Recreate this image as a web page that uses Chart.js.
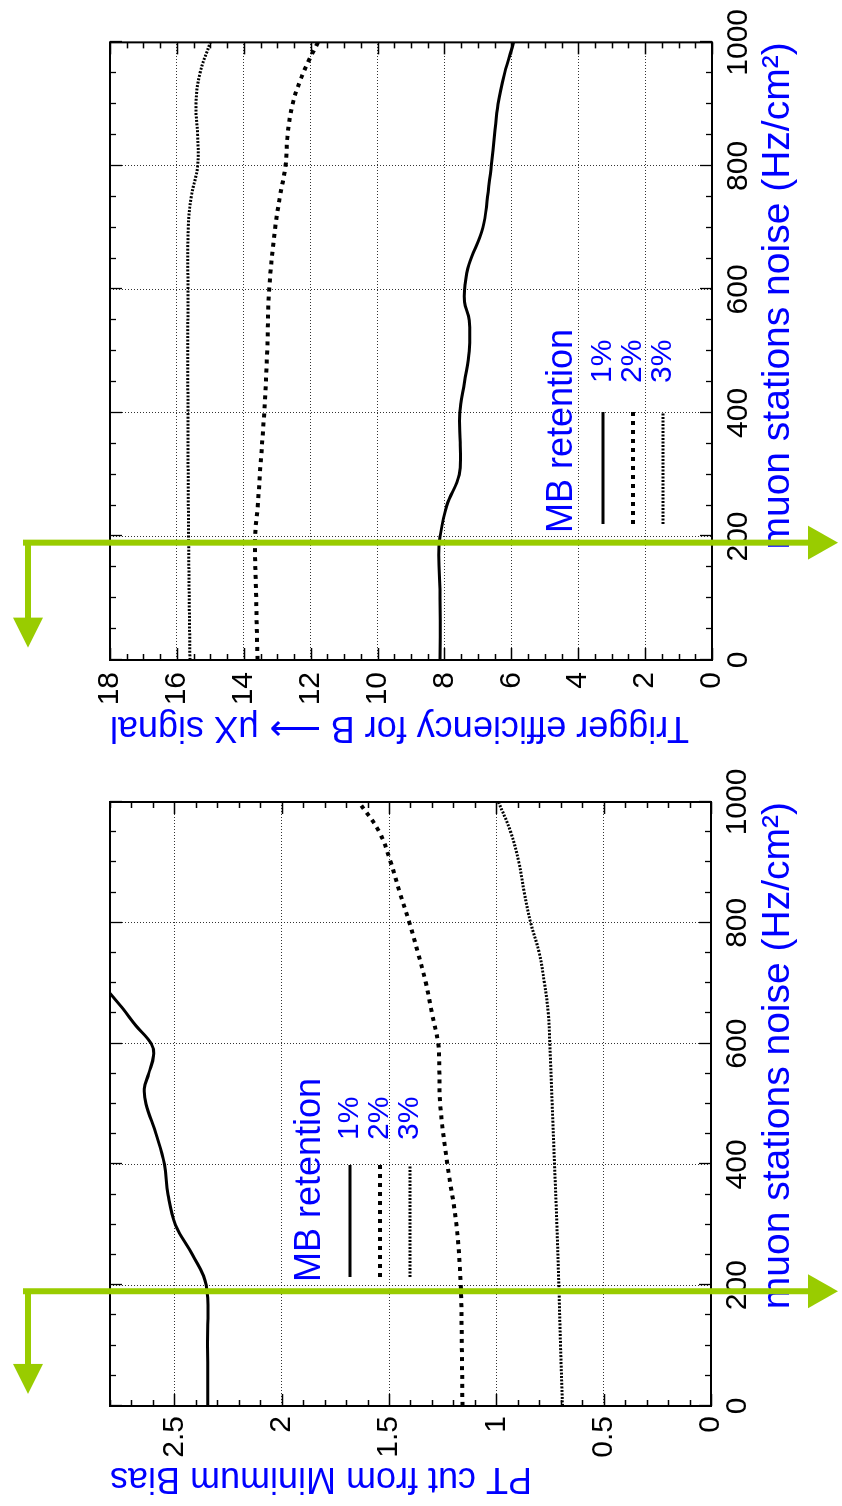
<!DOCTYPE html>
<html>
<head>
<meta charset="utf-8">
<script src="https://cdn.jsdelivr.net/npm/chart.js@4.4.1/dist/chart.umd.min.js"></script>
<style>
  html, body { margin: 0; padding: 0; background: #fff; overflow: hidden; }
  body { width: 842px; height: 1506px; position: relative; }
  /* the figure is laid out in landscape and turned a quarter turn */
  #sheet { position: absolute; left: 0; top: 0; width: 1506px; height: 842px;
           transform-origin: 0 0; transform: translate(0, 1506px) rotate(-90deg); }
  #sheet canvas { position: absolute; top: 0; }
  #ptChart { left: 0; }
  #effChart { left: 753px; }
</style>
</head>
<body>
<div id="sheet">
  <canvas id="ptChart" width="753" height="842"></canvas>
  <canvas id="effChart" width="753" height="842"></canvas>
</div>
<script>
// ---- PT cut from Minimum Bias vs muon stations noise ----
const ptNoise1 = [0, 100, 200, 250, 300, 350, 400, 450, 500, 525, 550, 580, 600, 630, 660, 700];
const ptCut1   = [2.345, 2.346, 2.352, 2.415, 2.495, 2.53, 2.546, 2.585, 2.632, 2.64, 2.62, 2.597, 2.608, 2.68, 2.745, 2.84];
const ptNoise2 = [0, 100, 200, 300, 400, 500, 560, 600, 650, 700, 750, 800, 850, 900, 950, 1000];
const ptCut2   = [1.158, 1.161, 1.166, 1.186, 1.228, 1.262, 1.266, 1.271, 1.30, 1.328, 1.365, 1.405, 1.45, 1.492, 1.545, 1.64];
const ptNoise3 = [0, 100, 200, 300, 400, 500, 600, 650, 700, 750, 800, 850, 900, 950, 1000];
const ptCut3   = [0.692, 0.701, 0.709, 0.718, 0.729, 0.740, 0.751, 0.758, 0.776, 0.80, 0.84, 0.87, 0.895, 0.933, 0.99];

// ---- Trigger efficiency for B -> muX vs muon stations noise ----
const effNoise1 = [0, 100, 170, 200, 250, 300, 350, 400, 450, 500, 550, 580, 610, 640, 700, 750, 800, 850, 900, 950, 1000];
const eff1      = [8.13, 8.13, 8.17, 8.13, 7.93, 7.56, 7.53, 7.54, 7.40, 7.26, 7.26, 7.40, 7.38, 7.27, 6.85, 6.71, 6.60, 6.50, 6.40, 6.20, 5.93];
const effNoise2 = [0, 100, 200, 250, 300, 400, 500, 600, 700, 750, 800, 850, 900, 940, 970, 1000];
const eff2      = [13.59, 13.63, 13.66, 13.58, 13.52, 13.39, 13.30, 13.24, 13.06, 12.92, 12.75, 12.69, 12.54, 12.30, 12.06, 11.78];
const effNoise3 = [0, 200, 400, 600, 700, 750, 800, 850, 900, 950, 1000];
const eff3      = [15.61, 15.65, 15.67, 15.67, 15.66, 15.57, 15.38, 15.38, 15.43, 15.31, 15.0];

const retentionLabels = ['1%', '2%', '3%'];
const noiseTicks = [0, 200, 400, 600, 800, 1000];
const workingPoint = 190;   // Hz/cm^2, marked with the green arrows

const BLUE = 'rgb(0,0,255)';
const GREEN = '#99cc00';
const FONT = '"Liberation Sans", Arial, Helvetica, sans-serif';
Chart.defaults.font.family = FONT;
Chart.defaults.color = '#000';

const lineStyles = [
  { borderWidth: 3, borderDash: [] },
  { borderWidth: 4, borderDash: [4, 5] },
  { borderWidth: 3, borderDash: [2, 1.5] }
];

const pts = (xs, ys) => xs.map((x, i) => ({ x, y: ys[i] }));

function series(xs, ys, k) {
  return {
    label: retentionLabels[k],
    data: pts(xs, ys),
    borderColor: '#000',
    borderWidth: lineStyles[k].borderWidth,
    borderDash: lineStyles[k].borderDash,
    borderCapStyle: 'butt',
    pointRadius: 0,
    fill: false,
    tension: 0.4,
    clip: 0
  };
}

// inward ticks on all four sides plus the frame
const frameTicks = {
  id: 'frameTicks',
  afterDatasetsDraw(chart, args, o) {
    const { ctx, chartArea: a, scales: { x, y } } = chart;
    const near = (v, s) => Math.abs(v / s - Math.round(v / s)) < 1e-6;
    ctx.save();
    ctx.strokeStyle = '#000';
    ctx.lineWidth = 1.3;
    ctx.beginPath();
    const nx = Math.round((x.max - x.min) / o.xMinor);
    for (let i = 0; i <= nx; i++) {
      const v = x.min + i * o.xMinor;
      const p = Math.round(x.getPixelForValue(v)) + 0.5;
      const L = near(v, o.xMajor) ? 12 : 6;
      ctx.moveTo(p, a.bottom); ctx.lineTo(p, a.bottom - L);
      ctx.moveTo(p, a.top); ctx.lineTo(p, a.top + L);
    }
    const ny = Math.floor((y.max - y.min) / o.yMinor + 1e-6);
    for (let i = 0; i <= ny; i++) {
      const v = y.min + i * o.yMinor;
      const p = Math.round(y.getPixelForValue(v)) + 0.5;
      const L = near(v, o.yMajor) ? 12 : 6;
      ctx.moveTo(a.left, p); ctx.lineTo(a.left + L, p);
      ctx.moveTo(a.right, p); ctx.lineTo(a.right - L, p);
    }
    ctx.stroke();
    ctx.lineWidth = 2;
    ctx.strokeRect(a.left, a.top, a.right - a.left, a.bottom - a.top);
    ctx.restore();
  }
};

// "MB retention" key
const retentionKey = {
  id: 'retentionKey',
  afterDatasetsDraw(chart, args, o) {
    const { ctx, chartArea: a } = chart;
    ctx.save();
    ctx.fillStyle = BLUE;
    ctx.textBaseline = 'middle';
    ctx.textAlign = 'left';
    ctx.font = '36px ' + FONT;
    ctx.fillText('MB retention', a.left + o.dx, a.top + o.dy);
    ctx.font = '30px ' + FONT;
    chart.data.datasets.forEach((ds, k) => {
      const yy = a.top + o.dy + o.rowGap0 + k * o.rowGap;
      ctx.strokeStyle = '#000';
      ctx.lineWidth = ds.borderWidth;
      ctx.setLineDash(ds.borderDash);
      ctx.beginPath();
      ctx.moveTo(a.left + o.lineFrom, yy);
      ctx.lineTo(a.left + o.lineTo, yy);
      ctx.stroke();
      ctx.setLineDash([]);
      ctx.fillText(ds.label, a.left + o.textAt, yy);
    });
    ctx.restore();
  }
};

// green arrows at the working point
const markerArrow = {
  id: 'markerArrow',
  afterDraw(chart, args, o) {
    const { ctx, scales: { x } } = chart;
    const xp = x.getPixelForValue(o.at);
    const xTip = x.getPixelForValue(o.leftTipAt);
    const h = 30, w = 17;
    ctx.save();
    ctx.strokeStyle = GREEN;
    ctx.fillStyle = GREEN;
    ctx.lineWidth = 6;
    ctx.beginPath();
    ctx.moveTo(xp, o.top - 5);
    ctx.lineTo(xp, o.downTip - h + 1);
    ctx.moveTo(xp + 3, o.top);
    ctx.lineTo(xTip + h - 1, o.top);
    ctx.stroke();
    ctx.beginPath();
    ctx.moveTo(xp, o.downTip);
    ctx.lineTo(xp - w, o.downTip - h);
    ctx.lineTo(xp + w, o.downTip - h);
    ctx.closePath();
    ctx.fill();
    ctx.beginPath();
    ctx.moveTo(xTip, o.top);
    ctx.lineTo(xTip + h, o.top - 15);
    ctx.lineTo(xTip + h, o.top + 15);
    ctx.closePath();
    ctx.fill();
    ctx.restore();
  }
};

const plainNumber = v => String(Math.round(v * 1000) / 1000);

function makeChart(id, cfg) {
  return new Chart(document.getElementById(id), {
    type: 'line',
    data: { datasets: cfg.datasets },
    options: {
      responsive: false,
      devicePixelRatio: 1,
      animation: false,
      events: [],
      layout: { padding: { left: 0, top: cfg.area.top, right: cfg.area.right, bottom: 0 } },
      scales: {
        x: {
          type: 'linear', min: 0, max: 1000,
          afterFit: s => { s.height = cfg.area.xAxisH; },
          afterBuildTicks: s => { s.ticks = noiseTicks.map(v => ({ value: v })); },
          ticks: { font: { size: 30 }, padding: 9, maxRotation: 0, autoSkip: false, callback: plainNumber },
          grid: { color: 'rgba(0,0,0,0.8)', lineWidth: 1, drawTicks: false },
          border: { display: false, dash: [1, 2] },
          title: { display: true, text: 'muon stations noise (Hz/cm²)', color: BLUE, align: 'end',
                   font: { size: 39 }, padding: { top: 0, bottom: 40 } }
        },
        y: {
          type: 'linear', min: 0, max: cfg.yMax,
          afterFit: s => { s.width = cfg.area.yAxisW; },
          ticks: { stepSize: cfg.yStep, includeBounds: false, font: { size: 30 }, padding: cfg.yLabelPad,
                   callback: plainNumber },
          grid: { color: 'rgba(0,0,0,0.8)', lineWidth: 1, drawTicks: false },
          border: { display: false, dash: [1, 2] },
          title: { display: true, text: cfg.yTitle, color: BLUE, align: 'end',
                   font: { size: 36 }, padding: { top: cfg.yTitlePad, bottom: 0 } }
        }
      },
      plugins: {
        legend: { display: false },
        tooltip: { enabled: false },
        frameTicks: { xMinor: 50, xMajor: 200, yMinor: cfg.yMinor, yMajor: cfg.yStep },
        retentionKey: cfg.key,
        markerArrow: { at: workingPoint, leftTipAt: 20, top: 28, downTip: 838 }
      }
    },
    plugins: [frameTicks, retentionKey, markerArrow]
  });
}

makeChart('ptChart', {
  datasets: [series(ptNoise1, ptCut1, 0), series(ptNoise2, ptCut2, 1), series(ptNoise3, ptCut3, 2)],
  area: { top: 110, right: 49, xAxisH: 131, yAxisW: 100 },
  yMax: 2.8, yStep: 0.5, yMinor: 0.1, yLabelPad: 10, yTitlePad: 6,
  yTitle: 'PT cut from Minimum Bias',
  key: { dx: 124, dy: 200, rowGap0: 40, rowGap: 30, lineFrom: 129, lineTo: 241, textAt: 266 }
});

makeChart('effChart', {
  datasets: [series(effNoise1, eff1, 0), series(effNoise2, eff2, 1), series(effNoise3, eff3, 2)],
  area: { top: 110, right: 40, xAxisH: 130, yAxisW: 93 },
  yMax: 18, yStep: 2, yMinor: 0.5, yLabelPad: 12, yTitlePad: 4,
  yTitle: 'Trigger efficiency for B \u27F6 \u03bcX signal',
  key: { dx: 127, dy: 452, rowGap0: 41, rowGap: 30, lineFrom: 136, lineTo: 248, textAt: 277 }
});
</script>
</body>
</html>
